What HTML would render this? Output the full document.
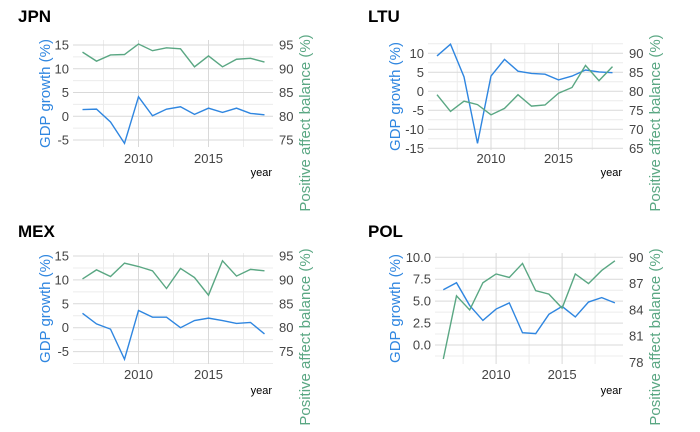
<!DOCTYPE html>
<html><head><meta charset="utf-8"><style>
body{margin:0;background:#fff;}
svg{display:block;font-family:"Liberation Sans",sans-serif;}
</style></head><body>
<svg id="chart" width="700" height="432" viewBox="0 0 700 432"></svg>
<script>
const years = [2006,2007,2008,2009,2010,2011,2012,2013,2014,2015,2016,2017,2018,2019];
const jpnGdp = [1.4,1.5,-1.2,-5.7,4.1,0.1,1.5,2.0,0.4,1.7,0.8,1.7,0.6,0.3];
const jpnPab = [93.5,91.6,92.9,93.0,95.2,93.8,94.4,94.2,90.4,92.7,90.4,92.0,92.2,91.4];
const ltuGdp = [9.3,12.4,3.8,-13.7,4.0,8.4,5.3,4.7,4.5,3.0,4.0,5.6,5.1,4.9];
const ltuPab = [79.1,74.7,77.4,76.5,73.8,75.5,79.1,76.1,76.4,79.5,81.0,86.8,82.8,86.5];
const mexGdp = [3.0,0.8,-0.3,-6.6,3.6,2.2,2.2,0.0,1.5,2.0,1.5,0.9,1.1,-1.3];
const mexPab = [90.2,92.1,90.7,93.5,92.8,91.9,88.2,92.4,90.5,86.8,94.0,90.8,92.2,91.9];
const polGdp = [6.3,7.1,4.5,2.8,4.1,4.8,1.4,1.3,3.5,4.4,3.2,4.9,5.4,4.8];
const polPab = [78.4,85.6,84.0,87.1,88.1,87.7,89.3,86.2,85.8,84.2,88.1,87.0,88.5,89.6];
const jpnLeftTicks = [15,10,5,0,-5], jpnRightTicks = [95,90,85,80,75];
const ltuLeftTicks = [10,5,0,-5,-10,-15], ltuRightTicks = [90,85,80,75,70,65];
const mexLeftTicks = [15,10,5,0,-5], mexRightTicks = [95,90,85,80,75];
const polLeftTicks = [10,7.5,5,2.5,0], polRightTicks = [90,87,84,81,78];
const xTicks = [2010,2015];

const NS="http://www.w3.org/2000/svg";
const svg=document.getElementById('chart');
function mk(tag,attrs,parent){const e=document.createElementNS(NS,tag);for(const k in attrs)e.setAttribute(k,attrs[k]);(parent||svg).appendChild(e);return e;}

const panels=[
 {name:'jpn',title:'JPN',tx:18,ty:22,gdp:jpnGdp,pab:jpnPab,lt:jpnLeftTicks,rt:jpnRightTicks,dec:0,
  pl:73,pr:273,pt:40,pb:147,x0:82.5,dx:14,yRef:15,yRefPx:45,ppu:4.75,
  lTitleX:45,rTitleX:305,rTitleY:123,yearY:176,tickY:163},
 {name:'ltu',title:'LTU',tx:368,ty:22,gdp:ltuGdp,pab:ltuPab,lt:ltuLeftTicks,rt:ltuRightTicks,dec:0,
  pl:428,pr:623,pt:43,pb:150,x0:437,dx:13.5,yRef:10,yRefPx:53.3,ppu:3.8,
  lTitleX:395,rTitleX:655,rTitleY:123,yearY:176,tickY:163},
 {name:'mex',title:'MEX',tx:18,ty:237,gdp:mexGdp,pab:mexPab,lt:mexLeftTicks,rt:mexRightTicks,dec:0,
  pl:73,pr:273,pt:253,pb:364,x0:82.5,dx:14,yRef:15,yRefPx:256,ppu:4.78,
  lTitleX:45,rTitleX:305,rTitleY:337,yearY:394,tickY:379},
 {name:'pol',title:'POL',tx:368,ty:237,gdp:polGdp,pab:polPab,lt:polLeftTicks,rt:polRightTicks,dec:1,
  pl:435,pr:623,pt:253,pb:364,x0:443.3,dx:13.2,yRef:10,yRefPx:257.3,ppu:8.77,
  lTitleX:395,rTitleX:655,rTitleY:337,yearY:394,tickY:379}
];

panels.forEach(p=>{
 const g=mk('g',{});
 
 
 const X=y=>p.x0+(y-2006)*p.dx;
 const Y=v=>p.yRefPx+(p.yRef-v)*p.ppu;
 const YR=v=>Y(v-80);
 const vmax=p.yRef+(p.yRefPx-p.pt)/p.ppu, vmin=p.yRef-(p.pb-p.yRefPx)/p.ppu;
 const step=p.lt[0]-p.lt[1];
 for(let v=p.lt[p.lt.length-1]-step/2; v<=vmax; v+=step){ if(v<vmin)continue;
   const l=mk('line',{x1:p.pl,x2:p.pr,y1:Y(v),y2:Y(v),stroke:'#ececec','stroke-width':1},g);
   
   }
 [2007.5,2012.5,2017.5].forEach(yr=>{const l=mk('line',{x1:X(yr),x2:X(yr),y1:p.pt,y2:p.pb,stroke:'#ececec'},g);
   
   });
 p.lt.forEach((v,i)=>{
   const l=mk('line',{x1:p.pl,x2:p.pr,y1:Y(v),y2:Y(v),stroke:'#d9d9d9'},g);
   
   
   const t=mk('text',{x:p.pl-4,y:Y(v)+4.5,'text-anchor':'end','font-size':13,fill:'#444'},g);
   t.textContent=p.dec?v.toFixed(1):String(v);
   
   
 });
 p.rt.forEach(v=>{
   const t=mk('text',{x:p.pr+6,y:YR(v)+4.5,'font-size':13,fill:'#444'},g);
   t.textContent=String(v);
   
   
 });
 xTicks.forEach(yr=>{
   const l=mk('line',{x1:X(yr),x2:X(yr),y1:p.pt,y2:p.pb,stroke:'#d9d9d9'},g);
   
   
   const t=mk('text',{x:X(yr),y:p.tickY,'text-anchor':'middle','font-size':13,fill:'#444'},g);
   t.textContent=String(yr);
   
   
 });
 const lp=mk('polyline',{points:years.map((y,i)=>X(y)+','+Y(p.gdp[i])).join(' '),fill:'none',stroke:'#2f86e0','stroke-width':1.4},g);
 
 
 const rp=mk('polyline',{points:years.map((y,i)=>X(y)+','+YR(p.pab[i])).join(' '),fill:'none',stroke:'#5aa783','stroke-width':1.4},g);
 
 
 const tt=mk('text',{x:p.tx,y:p.ty,'font-size':17,'font-weight':'bold',fill:'#000'},g);
 tt.textContent=p.title;
 
 
 const cy=(p.pt+p.pb)/2;
 const lt=mk('text',{x:p.lTitleX,y:cy,'text-anchor':'middle','font-size':15,fill:'#2f86e0',transform:`rotate(-90 ${p.lTitleX} ${cy})`,dy:5},g);
 lt.textContent='GDP growth (%)';
 
 
 const rtt=mk('text',{x:p.rTitleX,y:p.rTitleY,'text-anchor':'middle','font-size':15,fill:'#5aa783',transform:`rotate(-90 ${p.rTitleX} ${p.rTitleY})`,dy:5},g);
 rtt.textContent='Positive affect balance (%)';
 
 
 const yt=mk('text',{x:p.pr-1,y:p.yearY,'text-anchor':'end','font-size':11,fill:'#000'},g);
 yt.textContent='year';
 
 
});
</script>
</body></html>
